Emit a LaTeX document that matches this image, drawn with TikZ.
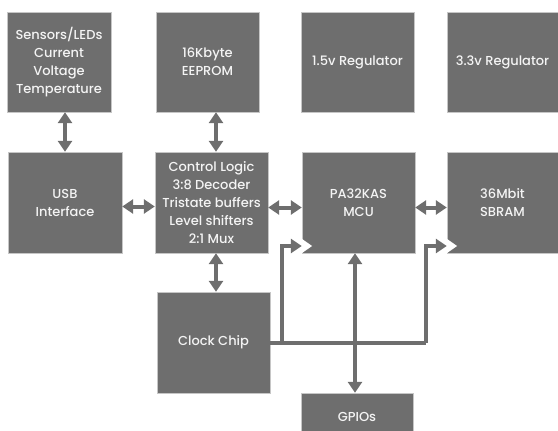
\documentclass[tikz,border=0pt]{standalone}
\usepackage{fontspec}
\setmainfont{Poppins}
\newfontfamily\boxfont{Poppins Medium}
\usetikzlibrary{arrows.meta}
\definecolor{boxgray}{HTML}{6E6E6E}
\definecolor{txtwhite}{HTML}{F4F4F4}
\tikzset{
	blk/.style = {fill = boxgray, draw = gray!45, line width = 0.4pt, text = txtwhite,
		align = center, font = \boxfont\fontsize{13}{18}\selectfont, inner sep = 0pt},
	link/.style = {draw = boxgray, line width = 4pt,
		{Triangle[width = 14pt, length = 11pt]}-{Triangle[width = 14pt, length = 11pt]}},
	feed/.style = {draw = boxgray, line width = 4pt, -{Triangle[width = 14pt, length = 11pt]}}
}
\begin{document}
\begin{tikzpicture}[x=1pt, y=-1pt]
	\useasboundingbox (0,0) rectangle (558,431);
	\clip (0,0) rectangle (558,431);
	% top row
	\node [blk, minimum width = 104pt, minimum height = 100pt] (sens) at (59, 62) {Sensors/LEDs\\Current\\Voltage\\Temperature};
	\node [blk, minimum width = 103pt, minimum height = 100pt] (eeprom) at (207.5, 62) {16Kbyte\\EEPROM};
	\node [blk, minimum width = 113pt, minimum height = 100pt] (regA) at (357.5, 62) {1.5v Regulator};
	\node [blk, minimum width = 111pt, minimum height = 100pt] (regB) at (502.5, 62) {3.3v Regulator};
	% middle row
	\node [blk, minimum width = 114pt, minimum height = 101pt] (usb) at (65, 202.5) {USB\\Interface};
	\node [blk, minimum width = 113pt, minimum height = 101pt] (ctrl) at (211.5, 202.5) {Control Logic\\3:8 Decoder\\Tristate buffers\\Level shifters\\2:1 Mux};
	\node [blk, minimum width = 113pt, minimum height = 101pt] (mcu) at (358.5, 202.5) {PA32KAS\\MCU};
	\node [blk, minimum width = 111pt, minimum height = 101pt] (sbram) at (502.5, 202.5) {36Mbit\\SBRAM};
	% bottom
	\node [blk, minimum width = 113pt, minimum height = 101pt] (clock) at (213.5, 342.5) {Clock Chip};
	\node [blk, minimum width = 112pt, minimum height = 48pt] (gpio) at (357, 417) {GPIOs};

	\draw [link] (usb.north) -- (usb.north |- sens.south);
	\draw [link] ([xshift=4.5pt]ctrl.north) -- ([xshift=4.5pt]ctrl.north |- eeprom.south);
	\draw [link] ([yshift=-4pt]usb.east) -- ([yshift=-4pt]ctrl.west);
	\draw [link] ([yshift=-5pt]ctrl.east) -- ([yshift=-5pt]mcu.west);
	\draw [link] ([yshift=-5pt]mcu.east) -- ([yshift=-5pt]sbram.west);
	\draw [link] ([xshift=4.5pt]ctrl.south) -- ([xshift=4.5pt]ctrl.south |- clock.north);
	\draw [link] ([xshift=-3.5pt]mcu.south) -- ([xshift=-3.5pt]mcu.south |- gpio.north);

	% clock lines
	\coordinate (ck) at (282, 343);
	\coordinate (ckr) at (426, 343);
	\draw [draw = boxgray, line width = 4pt] (clock.east |- ck) -- (ckr);
	\draw [feed] (ck) -- (ck |- 0, 246) -- (mcu.west |- 0, 246);
	\draw [feed] (ckr) -- (ckr |- 0, 246) -- (sbram.west |- 0, 246);
	\foreach \b in {mcu, sbram}
		\fill [white] (\b.west |- 0, 246) ++(0.3, -7) -- ++(10, 7) -- ++(-10, 7) -- cycle;
\end{tikzpicture}
\end{document}
